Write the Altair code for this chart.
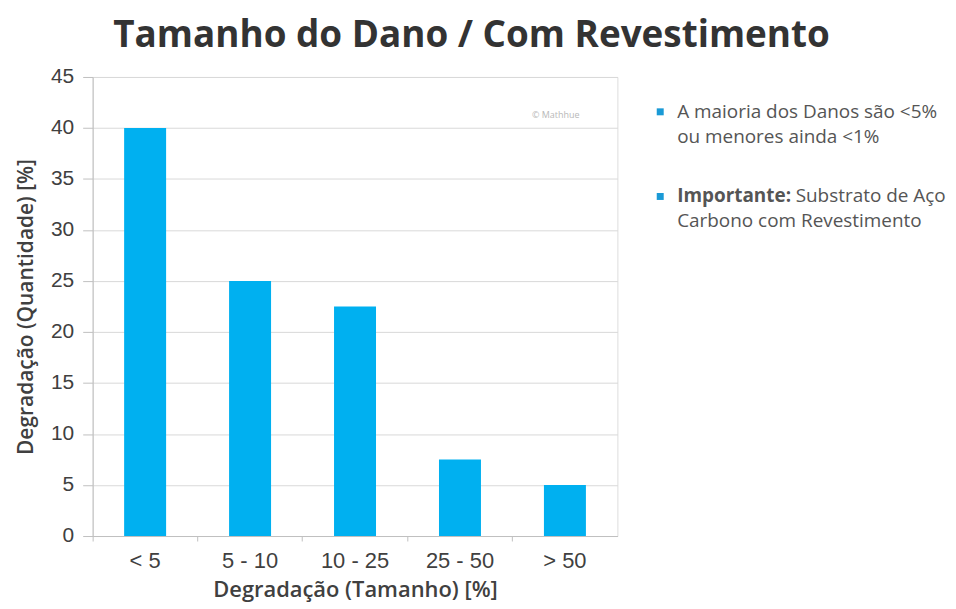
import altair as alt
import pandas as pd

categories = ["< 5", "5 - 10", "10 - 25", "25 - 50", "> 50"]
values = [40, 25, 22.5, 7.5, 5]

note_lines = ["A maioria dos Danos são <5%", "ou menores ainda <1%",
              "Substrato de Aço", "Carbono com Revestimento"]
note_x = [587, 587, 706, 587]
note_y = [35, 60, 120, 145]
note_bold = ["Importante:"]
watermark = ["© Mathhue"]

df = pd.DataFrame({"cat": categories, "val": values})

bars = alt.Chart(df).mark_bar(color="#00B0F0", width=alt.RelativeBandSize(0.4)).encode(
    x=alt.X("cat:N", sort=categories, title="Degradação (Tamanho) [%]",
            scale=alt.Scale(paddingInner=0, paddingOuter=0),
            axis=alt.Axis(labelAngle=0, bandPosition=0, ticks=True, tickSize=5,
                          tickColor="#bfbfbf", domainColor="#bfbfbf",
                          labelFont="Liberation Sans", labelFontSize=22, labelColor="#404040",
                          labelPadding=10, titleFont="Open Sans", titleFontSize=22,
                          titleFontWeight=600, titleColor="#404040", titlePadding=8)),
    y=alt.Y("val:Q", title="Degradação (Quantidade) [%]",
            scale=alt.Scale(domain=[0, 45]),
            axis=alt.Axis(values=list(range(0, 50, 5)), grid=True, gridColor="#d9d9d9",
                          tickColor="#bfbfbf", tickSize=10, domainColor="#bfbfbf",
                          labelFont="Liberation Sans", labelFontSize=21, labelColor="#404040",
                          labelPadding=9, titleFont="Open Sans", titleFontSize=21,
                          titleFontWeight=600, titleColor="#404040", titlePadding=14)),
)

notes_df = pd.DataFrame({"t": note_lines, "x": note_x, "y": note_y})
notes = alt.Chart(notes_df).mark_text(align="left", baseline="middle", font="Open Sans",
                                      fontSize=19, color="#555555").encode(
    x=alt.X("x:Q", scale=None), y=alt.Y("y:Q", scale=None), text="t:N")

bold_df = pd.DataFrame({"t": note_bold, "x": [587], "y": [120]})
bold = alt.Chart(bold_df).mark_text(align="left", baseline="middle", font="Open Sans",
                                    fontSize=19, fontWeight="bold", color="#555555").encode(
    x=alt.X("x:Q", scale=None), y=alt.Y("y:Q", scale=None), text="t:N")

sq_df = pd.DataFrame({"x": [570, 570], "y": [35, 120]})
squares = alt.Chart(sq_df).mark_square(color="#1a9ad6", size=49, opacity=1).encode(
    x=alt.X("x:Q", scale=None), y=alt.Y("y:Q", scale=None))

wm_df = pd.DataFrame({"t": watermark, "x": [465], "y": [38]})
wm = alt.Chart(wm_df).mark_text(align="center", baseline="middle", font="Open Sans",
                                fontSize=9, color="#b8b8b8").encode(
    x=alt.X("x:Q", scale=None), y=alt.Y("y:Q", scale=None), text="t:N")

chart = alt.layer(bars, wm, squares, notes, bold).properties(
    width=527, height=461,
    padding={"left": 7, "top": 8, "right": 2, "bottom": 2},
    title=alt.TitleParams("Tamanho do Dano / Com Revestimento", font="Open Sans",
                          fontSize=37, fontWeight="bold", color="#333333",
                          anchor="middle", offset=11, dx=117),
).configure_view(stroke=None).configure(background="white")

chart.save("out.html", embed_options={"renderer": "svg", "actions": False})
